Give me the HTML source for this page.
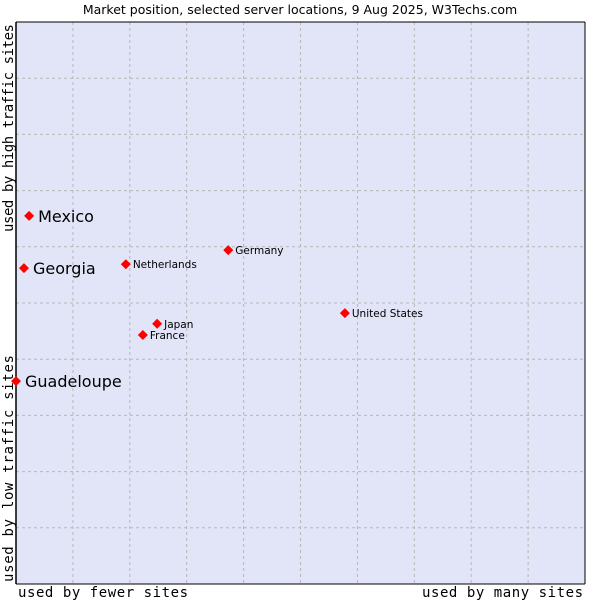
<!DOCTYPE html>
<html><head><meta charset="utf-8"><style>
body{margin:0;background:#fff}
svg text{font-family:"DejaVu Sans","Liberation Sans",sans-serif}
</style></head><body>
<svg id="chart" width="600" height="600">
<text x="300" y="14" font-size="12.5" text-anchor="middle" fill="#000">Market position, selected server locations, 9 Aug 2025, W3Techs.com</text>
<rect x="16" y="22" width="569" height="562" fill="#e2e4f8"/>
<g id="grid"></g>
<line x1="16" y1="22" x2="16" y2="584" stroke="#000" stroke-width="1.5"/>
<line x1="16" y1="22" x2="585" y2="22" stroke="#000" stroke-width="1"/>
<line x1="585" y1="22" x2="585" y2="584" stroke="#000" stroke-width="1"/>
<line x1="16" y1="584" x2="585" y2="584" stroke="#000" stroke-width="1"/>
<g id="points"></g>
<text x="18" y="597" font-size="14" textLength="170" style="font-family:'DejaVu Sans Mono','Liberation Mono',monospace">used by fewer sites</text>
<text x="422" y="597" font-size="14" textLength="161" style="font-family:'DejaVu Sans Mono','Liberation Mono',monospace">used by many sites</text>
<text transform="translate(13,582) rotate(-90)" font-size="14" textLength="227" style="font-family:'DejaVu Sans Mono','Liberation Mono',monospace">used by low traffic sites</text>
<text transform="translate(13,232) rotate(-90)" font-size="14" textLength="208" style="font-family:'DejaVu Sans Mono','Liberation Mono',monospace">used by high traffic sites</text>
</svg>
<script>
const names=["Mexico","Georgia","Guadeloupe","Netherlands","Germany","United States","Japan","France"];
const xValues=[2.3,1.4,0,19.3,37.3,57.8,24.8,22.3];
const yValues=[65.5,56.2,36.1,56.9,59.4,48.2,46.3,44.3];
const bigLabel=[true,true,true,false,false,false,false,false];
const NS="http://www.w3.org/2000/svg";
const X0=16,X1=585,Y0=584,Y1=22;
function sx(v){return X0+(X1-X0)*v/100;}
function sy(v){return Y0-(Y0-Y1)*v/100;}
const grid=document.getElementById('grid');
for(let i=1;i<10;i++){
  const vx=document.createElementNS(NS,'line');
  vx.setAttribute('x1',sx(i*10));vx.setAttribute('x2',sx(i*10));vx.setAttribute('y1',Y1);vx.setAttribute('y2',Y0);
  vx.setAttribute('stroke','#b8b8b8');vx.setAttribute('stroke-dasharray','3,3');
  
  
  grid.appendChild(vx);
  const hy=document.createElementNS(NS,'line');
  hy.setAttribute('x1',X0);hy.setAttribute('x2',X1);hy.setAttribute('y1',sy(i*10));hy.setAttribute('y2',sy(i*10));
  hy.setAttribute('stroke','#b8b8b8');hy.setAttribute('stroke-dasharray','3,3');
  
  
  grid.appendChild(hy);
}
const pts=document.getElementById('points');
names.forEach((n,i)=>{
  const x=sx(xValues[i]),y=sy(yValues[i]);
  const d=document.createElementNS(NS,'path');
  d.setAttribute('d',`M${x-5},${y} L${x},${y-5} L${x+5},${y} L${x},${y+5} Z`);
  d.setAttribute('fill','#ff0000');
  
  
  pts.appendChild(d);
  const t=document.createElementNS(NS,'text');
  t.setAttribute('x',x+(bigLabel[i]?9:7));
  t.setAttribute('y',y+(bigLabel[i]?6:4));
  t.setAttribute('font-size',bigLabel[i]?16:10.5);
  t.textContent=n;
  
  
  pts.appendChild(t);
});
</script>
</body></html>
